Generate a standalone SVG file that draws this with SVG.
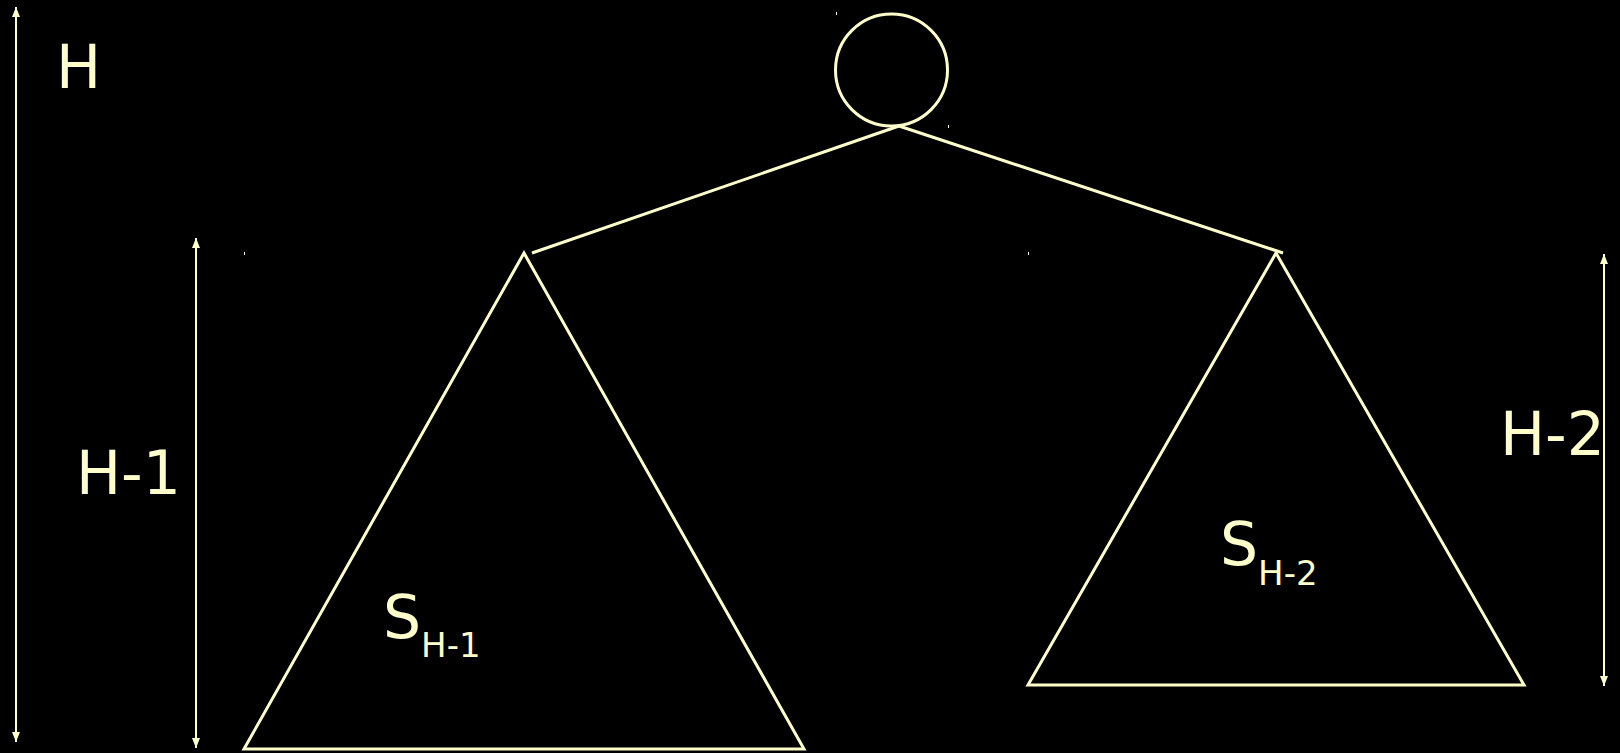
<svg xmlns="http://www.w3.org/2000/svg" width="1620" height="753" viewBox="0 0 1620 753">
<style>
.ln{stroke:#FFFFCC;stroke-width:3;fill:none}
.ar{stroke:#FFFFCC;stroke-width:2;fill:none}
.tx{fill:#FFFFCC;font-family:"DejaVu Sans",Verdana,sans-serif;font-size:60px}
.sb{font-size:34px}
.dot{fill:#FFFFCC}
</style>
<defs>
<marker id="ah" viewBox="0 0 10 8" refX="10" refY="4" markerWidth="10" markerHeight="8" markerUnits="userSpaceOnUse" orient="auto-start-reverse">
<path d="M0,0 L10,4 L0,8 Z" fill="#FFFFCC"/>
</marker>
</defs>
<rect width="1620" height="753" fill="#000"/>
<g id="root"><circle class="ln" cx="891.5" cy="70" r="56"/></g>
<g id="left-subtree"><polygon class="ln" points="524,253 804,749 244,749"/><text class="tx" x="383" y="638">S<tspan class="sb" dy="19">H-1</tspan></text></g>
<g id="right-subtree"><polygon class="ln" points="1276,253 1524,685 1028,685"/><text class="tx" x="1220" y="565">S<tspan class="sb" dy="20">H-2</tspan></text></g>
<g id="connectors">
<line class="ln" x1="899" y1="126" x2="532" y2="253"/>
<line class="ln" x1="899" y1="126" x2="1283" y2="253"/>
</g>
<g id="dimensions">
<line class="ar" x1="16" y1="7" x2="16" y2="742" marker-start="url(#ah)" marker-end="url(#ah)"/>
<line class="ar" x1="196" y1="238" x2="196" y2="748" marker-start="url(#ah)" marker-end="url(#ah)"/>
<line class="ar" x1="1604" y1="254" x2="1604" y2="686" marker-start="url(#ah)" marker-end="url(#ah)"/>
<text class="tx" x="56" y="88">H</text>
<text class="tx" x="76" y="494">H-1</text>
<text class="tx" x="1500" y="455">H-2</text>
</g>
<g id="marks">
<rect class="dot" x="836" y="12" width="1" height="3"/>
<rect class="dot" x="948" y="125" width="1" height="3"/>
<rect class="dot" x="244" y="252" width="1" height="3"/>
<rect class="dot" x="1028" y="252" width="1" height="3"/>
</g>
</svg>
